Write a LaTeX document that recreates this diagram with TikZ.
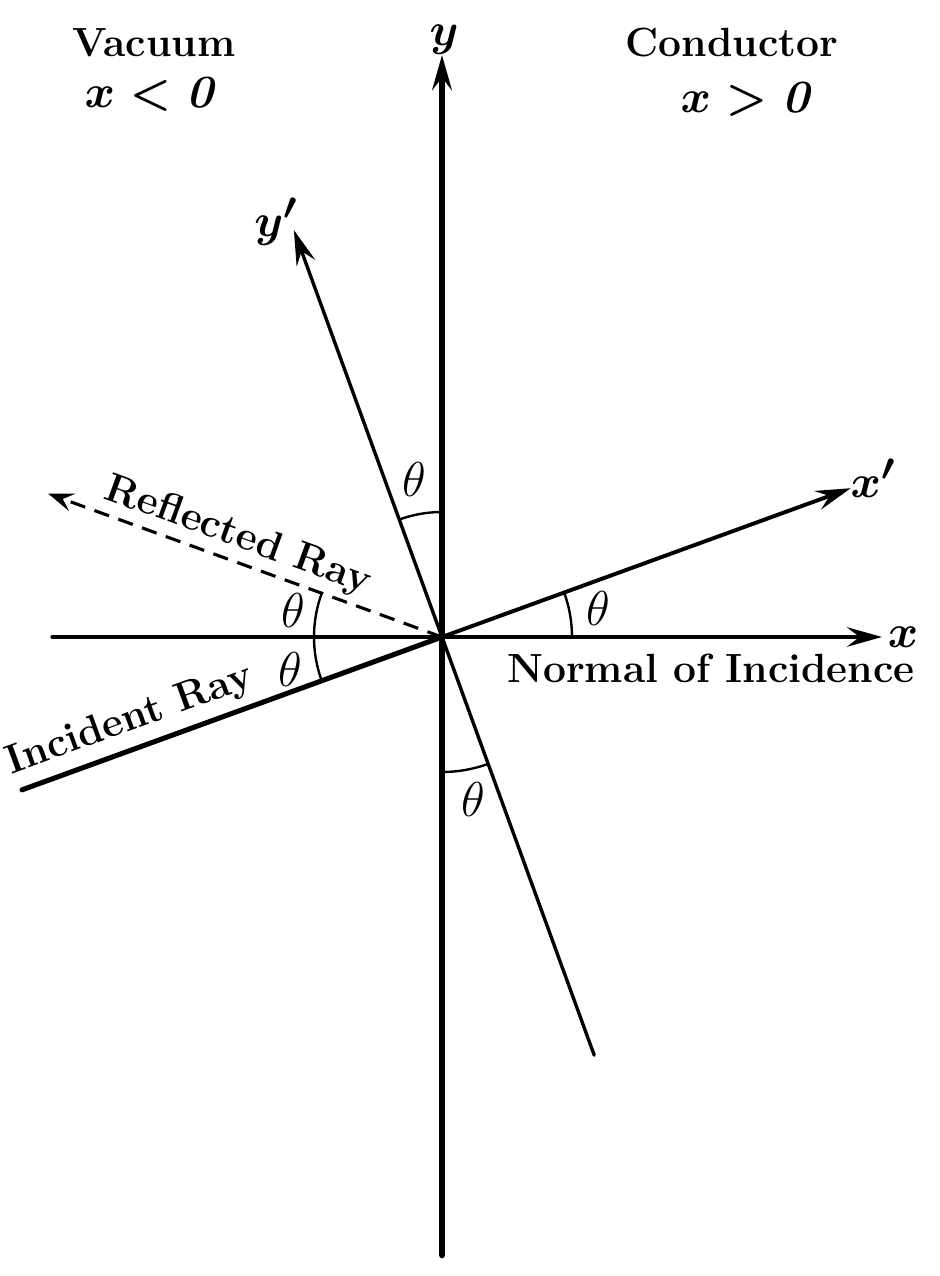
\documentclass[tikz,border=0pt]{standalone}
\usetikzlibrary{arrows.meta}
\tikzset{
	ax/.style = {line width = 2.2pt, -{Stealth[length = 25pt, width = 14pt, inset = 9pt]}},
	angarc/.style = {line width = 1.7pt},
	lab/.style = {font = \fontsize{29}{34}\selectfont\bfseries},
	sym/.style = {font = \Huge\boldmath, scale = 1.32, inner sep = 0pt},
	ang/.style = {font = \Huge, scale = 1.4, inner sep = 0pt},
}
\begin{document}
\begin{tikzpicture}[x = 0.025cm, y = 0.025cm]
		\useasboundingbox (-442,-639) rectangle (498,637);
		\coordinate (O) at (0,0);
		\coordinate (ybot) at (0,-618);
		\coordinate (ytop) at (0,582);
		\coordinate (xleft) at (-390,0);
		\coordinate (xright) at (440,0);
		\coordinate (xp) at (20:435);
		\coordinate (yp) at (110:433);
		\coordinate (ypbot) at (290:445);
		\coordinate (inc) at (200:447);
		\coordinate (refl) at (160:419);
		\draw [ax, line width = 4.8pt, line cap = round] (ybot) -- (ytop);
		\draw [ax, line cap = round] (xleft) -- (xright);
		\draw [ax, line width = 2.8pt] (O) -- (xp);
		\draw [ax, line width = 2.4pt, line cap = round] (ypbot) -- (yp);
		\draw [line width = 3.6pt, line cap = round] (inc) -- (O) node [sloped, pos = 0.28, above = 2pt, lab](incident) {Incident Ray};
		\draw [line width = 2.2pt, dash pattern = on 11pt off 7pt, -{Stealth[length = 18pt, width = 13pt, inset = 7pt]}] (O) -- (refl) node [sloped, pos = 0.54, above = 0pt, lab](reflected) {Reflected Ray};
		\draw [angarc] (90:125) arc [start angle = 90, end angle = 110, radius = 125];
		\draw [angarc] (270:135) arc [start angle = 270, end angle = 290, radius = 135];
		\draw [angarc] (0:130) arc [start angle = 0, end angle = 20, radius = 130];
		\draw [angarc] (160:128) arc [start angle = 160, end angle = 200, radius = 128];
		\node [ang](t1) at (100:160) {$\theta$};
		\node [ang](t2) at (281:166) {$\theta$};
		\node [ang](t3) at (10.5:159) {$\theta$};
		\node [ang](t4) at (170:151) {$\theta$};
		\node [ang](t5) at (192:155) {$\theta$};
		\node [sym](ylab) at (2,597) {$y$};
		\node [sym](xlab) at (461,0) {$x$};
		\node [sym](xplab) at (431,159) {$x'$};
		\node [sym](yplab) at (-166,415) {$y'$};
		\node [lab, anchor = base](vac) at (-288,580) {Vacuum};
		\node [sym, anchor = base](vacx) at (-290,529) {$x < \mathit{0}$};
		\node [lab, anchor = base](cond) at (290,580) {Conductor};
		\node [sym, anchor = base](condx) at (306,524) {$x > \mathit{0}$};
		\node [lab, anchor = base](normal) at (269,-45) {Normal of Incidence};
		\end{tikzpicture}
\end{document}
